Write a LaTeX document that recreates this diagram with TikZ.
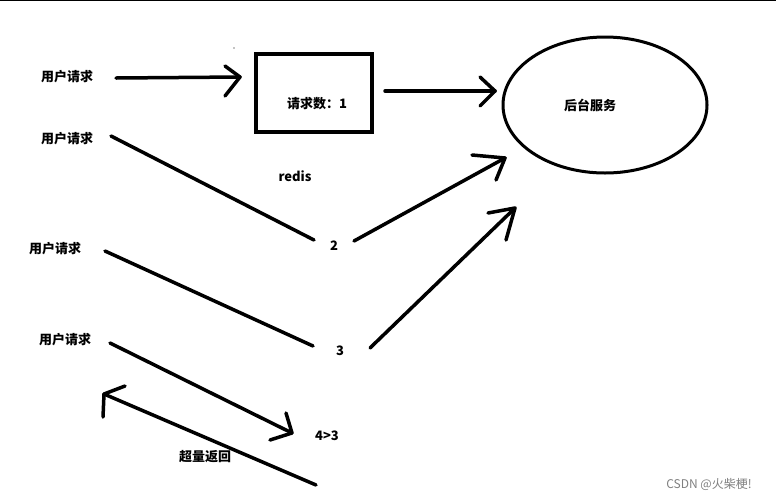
\documentclass[tikz,border=0pt]{standalone}
\usepackage{fontspec}
\usetikzlibrary{shapes.geometric}
\setmainfont{Liberation Sans}
\newfontfamily\cjk{Noto Sans CJK SC}
\begin{document}
\begin{tikzpicture}[x=1pt,y=-1pt,
  lbl/.style={font=\cjk\bfseries\fontsize{13}{15}\selectfont, inner sep=0pt},
  stroke/.style={line width=3.5pt, line cap=round, line join=round}]
\useasboundingbox (0,0) rectangle (776,499);
\fill[white] (0,0) rectangle (776,499);
\draw[line width=1pt] (0,0.5) -- (776,0.5);
\node[lbl] (u1) at (67,77) {用户请求};
\node[lbl] (u2) at (67,139) {用户请求};
\node[lbl] (u3) at (55,249) {用户请求};
\node[lbl] (u4) at (65,340) {用户请求};
\node[draw, line width=4pt, minimum width=116pt, minimum height=78pt, inner sep=0pt] (box) at (313.5,92.5) {};
\node[lbl] (cnt) at (317,104) {请求数：1};
\node[draw, ellipse, line width=3pt, minimum width=204pt, minimum height=136pt] (svc) at (605,105) {};
\node[lbl] (svct) at (590,105) {后台服务};
\node[lbl] (redis) at (295,176) {redis};
\node[lbl] (n2) at (334,246) {2};
\node[lbl] (n3) at (340,351) {3};
\node[lbl] (n4) at (327,436) {4>3};
\node[lbl] (ret) at (205,457) {超量返回};
\node[font=\cjk\fontsize{12}{14}\selectfont, text=gray, inner sep=0pt] (wm) at (709,484) {CSDN @火柴梗!};
% arrow 1
\coordinate (a1s) at (116,78); \coordinate (a1e) at (240,77);
\draw[stroke] (a1s) -- (a1e);
\draw[stroke] (225,66) -- (a1e) -- (225,96);
% arrow box -> service
\coordinate (a2s) at (385,91); \coordinate (a2e) at (495,91);
\draw[stroke] (a2s) -- (a2e);
\draw[stroke] (480,77) -- (a2e) -- (480,106);
% line 2
\coordinate (l2s) at (111,136); \coordinate (l2e) at (314,240);
\draw[stroke] (l2s) -- (l2e);
\coordinate (a3s) at (354,241); \coordinate (a3e) at (505,158);
\draw[stroke] (a3s) -- (a3e);
\draw[stroke] (472,155) -- (a3e) -- (496,180);
% line 3
\coordinate (l3s) at (105,251); \coordinate (l3e) at (313,346);
\draw[stroke] (l3s) -- (l3e);
\coordinate (a4s) at (370,348); \coordinate (a4e) at (515,208);
\draw[stroke] (488,213) -- (a4e) -- (506,240);
\draw[stroke] (a4s) -- (a4e);
% line 4
\coordinate (l4s) at (110,343); \coordinate (l4e) at (292,433);
\draw[stroke] (l4s) -- (l4e);
\draw[stroke] (286,413) -- (l4e) -- (270,440);
% return
\coordinate (r1) at (104,394); \coordinate (r2) at (316,485);
\draw[stroke] (r1) -- (r2);
\draw[stroke] (125,386) -- (r1) -- (103,417);
\fill (234,48) circle (0.6);
\end{tikzpicture}
\end{document}
